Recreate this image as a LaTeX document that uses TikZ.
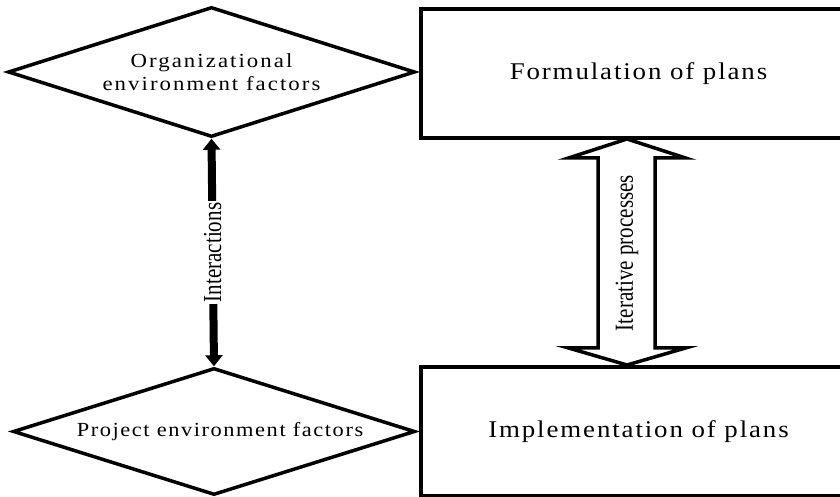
\documentclass[tikz,border=0pt]{standalone}
\usepackage{fontspec}
\usepackage{graphicx}
\setmainfont{Liberation Serif}
\usetikzlibrary{shapes.geometric,arrows.meta}
\newcommand\diafont{\fontsize{20}{24}\selectfont\addfontfeature{LetterSpace=7}}
\newcommand\orgfont{\fontsize{20}{24}\selectfont\addfontfeature{LetterSpace=9}}
\newcommand\boxfont{\fontsize{24}{28}\selectfont\addfontfeature{LetterSpace=7}}
\newcommand\rotfont{\fontsize{26}{30}\selectfont}
\newcommand\wide[1]{\scalebox{1.12}[1]{#1}}
\begin{document}
\begin{tikzpicture}[x=1pt,y=1pt,
  dia/.style={draw,shape=diamond,shape aspect=3.13,line width=3.5pt,inner sep=0pt,line join=miter,align=center,font=\diafont},
  box/.style={draw,rectangle,line width=4pt,inner sep=0pt,font=\boxfont},
  inter/.style={line width=8pt,{Triangle[length=11pt,width=17pt]}-{Triangle[length=11pt,width=17pt]}},
  iter/.style={draw,line width=3.5pt,line join=miter,fill=white},
  rotlab/.style={rotate=90,inner sep=2pt,font=\rotfont}]
\path[use as bounding box] (0,0) rectangle (840,497);
\clip (0,0) rectangle (840,497);
\fill[white] (0,0) rectangle (840,497);

\node[dia, font=\orgfont, minimum width=407, minimum height=130] (org) at (211.5,425) {\scalebox{1.14}[1]{Organizational}\\[-1pt]\scalebox{1.14}[1]{environment factors}};
\node[dia, minimum width=402, minimum height=127] (proj) at (214,65.5) {\hspace*{12pt}\wide{Project environment factors}};

\node[box, minimum width=435, minimum height=129] (fp) at (638.5,423.5) {\wide{Formulation of plans}};
\node[box, minimum width=435, minimum height=129] (ip) at (638.5,65.5) {\wide{Implementation of plans}};

\draw[inter] (org.south) -- (proj.north)
  node[midway, rotlab, fill=white] (ilab) {\scalebox{0.81}[1]{Interactions}};

\coordinate (ta) at (627,358);
\coordinate (tb) at (627,132);
\draw[iter] (ta) -- (685.5,339) -- (655,339) -- (655,149) -- (685.5,149) -- (tb)
  -- (568.5,149) -- (598,149) -- (598,339) -- (568.5,339) -- cycle;
\node[rotlab] (itlab) at (627,244) {\scalebox{0.81}[1]{Iterative processes}};
\end{tikzpicture}
\end{document}
